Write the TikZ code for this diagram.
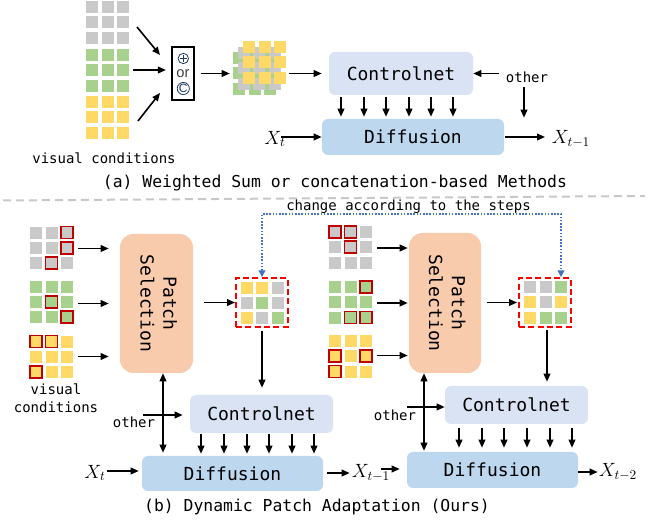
\RequirePackage{fix-cm}
\documentclass[tikz,border=0pt]{standalone}
\usepackage{graphicx}
\usepackage{fontspec}
\newfontfamily\dmono{DejaVu Sans Mono}
\newfontfamily\arialf{Liberation Sans}
\usetikzlibrary{arrows.meta,calc}
\definecolor{cgray}{HTML}{C9C9C9}
\definecolor{cgreen}{HTML}{A9D18E}
\definecolor{cyel}{HTML}{FFD966}
\definecolor{hlred}{HTML}{C00000}
\definecolor{ctrlfill}{HTML}{DAE3F3}
\definecolor{difffill}{HTML}{BDD7EE}
\definecolor{psfill}{HTML}{F8CBAD}
\definecolor{dblue}{HTML}{4472C4}
\definecolor{navyc}{HTML}{203864}
\definecolor{sepgray}{HTML}{C8C8C8}
\tikzset{
 arr/.style={-{Triangle[length=6pt,width=5pt]}, line width=1.2pt},
 darr/.style={{Triangle[length=6pt,width=5pt]}-{Triangle[length=6pt,width=5pt]}, line width=1.2pt},
 boxlabel/.style={font=\dmono\fontsize{13.5}{17}\selectfont, inner sep=0pt},
 ctrlbox/.style={boxlabel, fill=ctrlfill, rounded corners=4.5pt, minimum width=107.25pt, minimum height=28.5pt},
 diffbox/.style={boxlabel, fill=difffill, rounded corners=4.5pt},
 psbox/.style={boxlabel, fill=psfill, rounded corners=10pt},
 redbox/.style={draw=red, line width=1.4pt, dash pattern=on 4.5pt off 2.5pt, minimum width=39pt, minimum height=36.75pt, inner sep=0pt},
 gridnode/.style={inner sep=0pt, minimum width=32.25pt, minimum height=31.5pt},
 small/.style={font=\dmono\fontsize{10.5}{13.5}\selectfont, inner sep=0pt},
 captxt/.style={font=\dmono\fontsize{12.3}{15}\selectfont, inner sep=0pt},
 mathlbl/.style={font=\fontsize{14.4}{16}\selectfont, inner sep=0pt},
 hl/.style={draw=hlred, line width=1.2pt},
 bluedot/.style={dblue, line width=0.9pt, dash pattern=on 1.2pt off 1.2pt, {Triangle[length=5pt,width=5pt]}-{Triangle[length=5pt,width=5pt]}},
}
\newcommand\mygrid[3]{\foreach \ri in {0,1,2}{\foreach \ci in {0,1,2}{\fill[#3] ({#1+15.5*\ci},{#2+15.3*\ri}) rectangle ++(12,12);}}}
\newcommand\myhl[3]{\foreach \ci/\ri in {#3}{\draw[hl] ({#1+15.5*\ci},{#2+15.3*\ri}) rectangle ++(12,12);}}
\newcommand\mymix[3]{\foreach \ci/\ri/\kc in {#3}{\fill[\kc] ({#1+15.5*\ci},{#2+15.3*\ri}) rectangle ++(12,12);}}
\begin{document}
\begin{tikzpicture}[x=0.75pt,y=-0.75pt]
\useasboundingbox (0,0) rectangle (651,520);

% ================= (a) =================
\mygrid{86}{1}{cgray}
\mygrid{86}{49}{cgreen}
\mygrid{86}{96}{cyel}
\node[gridnode] (ga1) at (107.5,22) {};
\node[gridnode] (ga2) at (107.5,70) {};
\node[gridnode] (ga3) at (107.5,117) {};
\node[small] (vca) at (104,158) {visual conditions};

\node[draw, line width=1.1pt, minimum width=16.5pt, minimum height=39.75pt, inner sep=0pt] (op) at (183,73.5) {};
\node[circle, draw=navyc, line width=0.6pt, minimum size=7.8pt, inner sep=0pt] (oplus) at (183.3,58.5) {};
\draw[navyc, line width=0.6pt] ($(oplus.center)+(-3.6,0)$) -- ($(oplus.center)+(3.6,0)$) ($(oplus.center)+(0,-3.6)$) -- ($(oplus.center)+(0,3.6)$);
\node[font=\arialf\fontsize{11}{12}\selectfont, text=black!75, inner sep=0pt] (opor) at (183,73.5) {or};
\node[circle, draw=navyc, line width=0.6pt, minimum size=8.2pt, inner sep=0pt, font=\arialf\fontsize{9}{9}\selectfont, text=navyc] (opc) at (183.3,88.5) {C};

\coordinate (a1s) at (137,27); \coordinate (a1e) at (160,55);
\coordinate (a3s) at (138,121); \coordinate (a3e) at (160,93);
\draw[arr] (a1s) -- (a1e);
\draw[arr, shorten <=3pt, shorten >=4pt] (ga2.east) -- (ga2.east -| op.west);
\draw[arr] (a3s) -- (a3e);

% stacked grid
\mygrid{233}{52}{cgreen}
\mygrid{237.5}{47}{cgray}
\mygrid{243}{41}{cyel}
\node[inner sep=0pt, minimum width=39pt, minimum height=41.25pt] (stack) at (259,68.5) {};
\draw[arr, shorten <=4.5pt, shorten >=2.25pt] (op.east) -- (op.east -| stack.west);

\node[ctrlbox, minimum width=108pt, minimum height=32.25pt] (ctrlA) at (401,73.5) {Controlnet};
\node[diffbox, minimum width=136.5pt, minimum height=27pt] (diffA) at (413,137) {Diffusion};
\draw[arr, shorten <=3pt, shorten >=5.25pt] (stack.east |- ctrlA.west) -- (ctrlA.west);
\foreach \x [count=\i] in {341,364,386,409,431,453}{
  \coordinate (ca\i) at (\x,0);
  \draw[arr, shorten <=1.5pt, shorten >=1.5pt] (ctrlA.south -| ca\i) -- (diffA.north -| ca\i);
}
\node[small] (othA) at (527,77) {other};
\coordinate (othAs) at (499,73.5);
\draw[arr] (othAs) -- (ctrlA.east);
\coordinate (othAv) at (524,87);
\draw[arr, shorten >=0.75pt] (othAv) -- (othAv |- diffA.north);

\node[mathlbl] (xtA) at (275,139) {$X_t$};
\coordinate (xtAs) at (281,137);
\draw[arr] (xtAs) -- (diffA.west);
\node[mathlbl] (xm1A) at (571,139) {$X_{t-1}$};
\draw[arr, shorten <=0.75pt, shorten >=5pt] (diffA.east) -- (diffA.east -| xm1A.west);

\node[captxt] (capA) at (335,183) {(a) Weighted Sum or concatenation-based Methods};

\coordinate (sepL) at (3,200.5); \coordinate (sepR) at (645,196);
\draw[sepgray, line width=1.5pt, dash pattern=on 6pt off 3.75pt] (sepL) -- (sepR);

% ================= (b) left =================
\node[small] (chg) at (408.5,206.5) {change according to the steps};

\mygrid{30}{226.7}{cgray}  \myhl{30}{226.7}{2/0,2/1,1/2}
\mygrid{30}{280.7}{cgreen} \myhl{30}{280.7}{1/1,2/2}
\mygrid{30}{335.7}{cyel}   \myhl{30}{335.7}{0/0,1/0,0/2}
\node[gridnode] (gbl1) at (51.5,248.5) {};
\node[gridnode] (gbl2) at (51.5,303.5) {};
\node[gridnode] (gbl3) at (51.5,356.5) {};
\node[small, align=center, font=\dmono\fontsize{10.5}{13.5}\selectfont] (vcb) at (56,398) {visual\\conditions};

\node[psbox, minimum width=54.75pt, minimum height=104.25pt] (psL) at (156.5,303.5) {\rotatebox{-90}{\begin{tabular}{@{}c@{}}Patch\\Selection\end{tabular}}};
\foreach \g in {gbl1,gbl2,gbl3}{
  \draw[arr, shorten <=3.75pt, shorten >=8.25pt] (\g.east) -- (\g.east -| psL.west);
}

\mymix{240.7}{281.7}{0/0/cyel,1/0/cyel,2/0/cgray,0/1/cgray,1/1/cgreen,2/1/cgray,0/2/cyel,1/2/cgray,2/2/cgreen}
\node[redbox] (redL) at (262,302.5) {};
\draw[arr, shorten <=8.25pt] (psL.east |- redL.west) -- (redL.west);

\node[ctrlbox] (ctrlBL) at (261.5,414) {Controlnet};
\node[diffbox, minimum width=135.75pt, minimum height=26.25pt] (diffBL) at (232.5,473.5) {Diffusion};
\draw[arr, shorten <=2.25pt, shorten >=5.25pt] (redL.south) -- (redL.south |- ctrlBL.north);
\foreach \x [count=\i] in {201,224,247,269,292,314}{
  \coordinate (cb\i) at (\x,0);
  \draw[arr, shorten <=0.75pt, shorten >=1.5pt] (ctrlBL.south -| cb\i) -- (diffBL.north -| cb\i);
}
\coordinate (dbl) at (163,0);
\draw[darr, shorten >=2.25pt] (psL.south -| dbl) -- (diffBL.north -| dbl);
\node[small] (othBL) at (134,422.5) {other};
\coordinate (othBLs) at (143,415);
\draw[arr, shorten >=5.25pt] (othBLs) -- (othBLs -| ctrlBL.west);

\node[mathlbl] (xtB) at (95,473) {$X_t$};
\coordinate (xtBs) at (107,471);
\draw[arr, shorten >=2.25pt] (xtBs) -- (xtBs -| diffBL.west);
\node[mathlbl] (xm1B) at (371,473) {$X_{t-1}$};
\draw[arr, shorten <=3pt, shorten >=1.5pt] (diffBL.east |- xm1B.west) -- (xm1B.west);

% ================= (b) right =================
\mygrid{329}{226}{cgray}  \myhl{329}{226}{0/0,1/0,1/1}
\mygrid{329}{281}{cgreen} \myhl{329}{281}{2/0,1/2,2/2}
\mygrid{329}{335}{cyel}   \myhl{329}{335}{0/1,2/1,0/2}
\node[gridnode] (gbr1) at (350.5,248) {};
\node[gridnode] (gbr2) at (350.5,303) {};
\node[gridnode] (gbr3) at (350.5,355.5) {};

\node[psbox, minimum width=54pt, minimum height=105pt] (psR) at (445,303) {\rotatebox{-90}{\begin{tabular}{@{}c@{}}Patch\\Selection\end{tabular}}};
\foreach \g in {gbr1,gbr2,gbr3}{
  \draw[arr, shorten <=3.75pt, shorten >=0.75pt] (\g.east) -- (\g.east -| psR.west);
}
\mymix{524}{281}{0/0/cgray,1/0/cgray,2/0/cgreen,0/1/cyel,1/1/cgray,2/1/cyel,0/2/cyel,1/2/cgreen,2/2/cgreen}
\node[redbox] (redR) at (545,302.5) {};
\draw[arr, shorten <=4.5pt, shorten >=0.75pt] (psR.east |- redR.west) -- (redR.west);

\node[ctrlbox] (ctrlBR) at (516.5,405) {Controlnet};
\node[diffbox, minimum width=128.25pt, minimum height=27pt] (diffBR) at (492.5,470) {Diffusion};
\coordinate (rdn) at (547,0);
\draw[arr, shorten <=1.5pt, shorten >=3pt] (redR.south -| rdn) -- (ctrlBR.north -| rdn);
\foreach \x [count=\i] in {459,482,504,527,550,572}{
  \coordinate (cr\i) at (\x,0);
  \draw[arr, shorten <=3pt, shorten >=3pt] (ctrlBR.south -| cr\i) -- (diffBR.north -| cr\i);
}
\coordinate (dbr) at (424,0);
\draw[darr, shorten >=0.75pt] (psR.south -| dbr) -- (diffBR.north -| dbr);
\node[small] (othBR) at (395,415.5) {other};
\coordinate (othBRs) at (407,407);
\draw[arr] (othBRs) -- (othBRs -| ctrlBR.west);

\coordinate (xm1s) at (381,469);
\draw[arr, shorten >=5.25pt] (xm1s) -- (xm1s -| diffBR.west);
\node[mathlbl] (xm2B) at (618,472) {$X_{t-2}$};
\draw[arr, shorten >=0.75pt] (diffBR.east |- xm2B.west) -- (xm2B.west);

% blue dotted feedback
\coordinate (bl) at (262.7,214); \coordinate (br) at (561,214);
\draw[bluedot] (redL.north) -- (redL.north |- bl) -- (br) -- (br |- redR.north);

\node[captxt] (capB) at (317,507) {(b) Dynamic Patch Adaptation (Ours)};
\end{tikzpicture}
\end{document}
